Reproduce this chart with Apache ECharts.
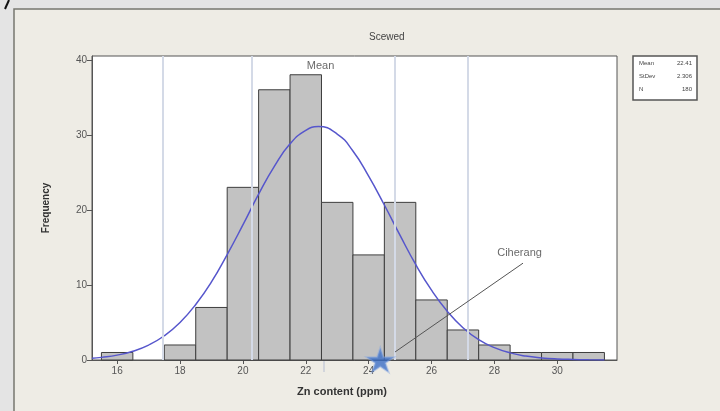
<!DOCTYPE html>
<html>
<head>
<meta charset="utf-8">
<title>Scewed — Zn content histogram</title>
<script src="https://cdn.jsdelivr.net/npm/echarts@6/dist/echarts.min.js"></script>
<style>
  html, body { margin: 0; padding: 0; background: #e4e4e4; }
  #chart { width: 720px; height: 411px; }
</style>
</head>
<body>
<div id="chart"></div>
<script>
// Histogram bins (width 1 ppm, centred on each value) and their counts
const binCenters = [16, 18, 19, 20, 21, 22, 23, 24, 25, 26, 27, 28, 29, 30, 31];
const frequencies = [1, 2, 7, 23, 36, 38, 21, 14, 21, 8, 4, 2, 1, 1, 1];

// Fitted normal curve, sampled along the x axis
const curveX = [15.2, 15.5, 16, 16.5, 17, 17.5, 18, 18.5, 19, 19.5, 20, 20.5, 21, 21.5, 22, 22.4,
                23, 23.5, 24, 24.5, 25, 25.5, 26, 26.5, 27, 27.5, 28, 28.5, 29, 29.5, 30, 30.5, 31, 31.5];
const curveY = [0.23, 0.35, 0.65, 1.17, 1.99, 3.23, 5.0, 7.4, 10.4, 14.05, 18.0, 22.1, 25.8, 28.8, 30.6, 31.1,
                30.1, 27.85, 24.5, 20.65, 16.6, 12.7, 9.3, 6.5, 4.3, 2.7, 1.65, 0.95, 0.52, 0.28, 0.14, 0.07, 0.03, 0.01];

// Axis ticks
const xTicks = [16, 18, 20, 22, 24, 26, 28, 30];
const yTicks = [0, 10, 20, 30, 40];

// Reference lines and the mean position
const refLines = [17.45, 20.28, 24.84, 27.16];
const meanValue = 22.58;

// Ciherang sample marker and its callout
const starPoint = [24.37, 0];
const arrowFrom = [28.91, 12.9];
const arrowTo = [24.84, 1.07];
const calloutLabel = 'Ciherang';
const calloutAt = [28.8, 14.3];
const meanLabelAt = [22.47, 39.2];

// Summary statistics
const statNames = ['Mean', 'StDev', 'N'];
const statValues = ['22.41', '2.306', '180'];

const FONT = '"Liberation Sans", "DejaVu Sans", Arial, sans-serif';
const chart = echarts.init(document.getElementById('chart'), null, { renderer: 'canvas' });

const STAR = 'path://M50,0 L61,35 L98,35 L68,57 L79,91 L50,70 L21,91 L32,57 L2,35 L39,35 Z';

const statsGraphic = [];
statNames.forEach((n, i) => {
  statsGraphic.push({ id: 'sn' + i, type: 'text', left: 639, top: 60 + i * 13,
    style: { text: n, font: '6px ' + FONT, fill: '#444' }, z: 10 });
  statsGraphic.push({ id: 'sv' + i, type: 'text', right: 720 - 692, top: 60 + i * 13,
    style: { text: statValues[i], font: '6px ' + FONT, fill: '#444', textAlign: 'right' }, z: 10 });
});

const option = {
  animation: false,
  backgroundColor: 'transparent',
  graphic: [
    { id: 'panel', type: 'rect', shape: { x: 14, y: 9, width: 720, height: 420 },
      style: { fill: '#eeece5', stroke: '#77776f', lineWidth: 1.5 }, z: -10 },
    { id: 'slash', type: 'line', shape: { x1: 9, y1: 0, x2: 5, y2: 9 },
      style: { stroke: '#111', lineWidth: 2 }, z: -5 },
    { id: 'title', type: 'text', left: 369, top: 32, style: { text: 'Scewed', font: '10px ' + FONT, fill: '#444' } },
    { id: 'statbox', type: 'rect', shape: { x: 633, y: 56, width: 64, height: 44 },
      style: { fill: '#ffffff', stroke: '#555', lineWidth: 1.5 }, z: 5 },
    ...statsGraphic
  ],
  grid: { left: 92, right: 103, top: 56, bottom: 51, show: true, backgroundColor: '#ffffff',
          borderColor: '#555', borderWidth: 1 },
  xAxis: {
    type: 'value', min: 15.2, max: 31.9,
    name: 'Zn content (ppm)', nameLocation: 'middle', nameGap: 26,
    nameTextStyle: { fontFamily: FONT, fontSize: 11, fontWeight: 'bold', color: '#333', padding: [0, 25, 0, 0] },
    axisLine: { show: true, onZero: false, lineStyle: { color: '#555' } },
    axisTick: { show: true, length: 4, customValues: xTicks, lineStyle: { color: '#555' } },
    axisLabel: { customValues: xTicks, margin: 6, fontFamily: FONT, fontSize: 10, color: '#555' },
    splitLine: { show: false }
  },
  yAxis: {
    type: 'value', min: 0, max: 40.5,
    name: 'Frequency', nameLocation: 'middle', nameGap: 41, nameRotate: 90,
    nameTextStyle: { fontFamily: FONT, fontSize: 10, fontWeight: 'bold', color: '#333' },
    axisLine: { show: true, lineStyle: { color: '#555' } },
    axisTick: { show: true, length: 5, customValues: yTicks, lineStyle: { color: '#555' } },
    axisLabel: { customValues: yTicks, margin: 5, fontFamily: FONT, fontSize: 10, color: '#555' },
    splitLine: { show: false }
  },
  series: [
    {
      // faint reference verticals
      type: 'line', data: [], silent: true,
      markLine: {
        symbol: 'none', silent: true, label: { show: false },
        lineStyle: { type: 'solid', color: '#d4dae7', width: 2 },
        data: refLines.map(v => ({ xAxis: v }))
      },
      z: 1
    },
    {
      type: 'custom', name: 'Frequency', z: 2,
      data: binCenters.map((c, i) => [c, frequencies[i]]),
      renderItem: function (params, api) {
        const x = api.value(0), y = api.value(1);
        const p0 = api.coord([x - 0.5, y]);
        const p1 = api.coord([x + 0.5, 0]);
        return {
          type: 'rect',
          shape: { x: p0[0], y: p0[1], width: p1[0] - p0[0], height: p1[1] - p0[1] },
          style: { fill: '#c2c2c2', stroke: '#3e3e3e', lineWidth: 1 }
        };
      }
    },
    {
      type: 'line', name: 'Normal', smooth: true, showSymbol: false, z: 3,
      data: curveX.map((x, i) => [x, curveY[i]]),
      lineStyle: { color: '#5656cc', width: 1.5 }
    },
    {
      // callout arrow
      type: 'line', data: [], z: 4, silent: true,
      markLine: {
        silent: true, symbol: ['none', 'triangle'], symbolSize: [0, 6],
        label: { show: false },
        lineStyle: { type: 'solid', color: '#555', width: 1 },
        data: [[{ coord: arrowFrom }, { coord: arrowTo }]]
      }
    },
    {
      type: 'scatter', z: 6, silent: true,
      data: [calloutAt], symbolSize: 0,
      label: { show: true, position: 'inside', formatter: calloutLabel,
               fontFamily: FONT, fontSize: 11, color: '#444' }
    },
    {
      type: 'scatter', z: 6, silent: true,
      data: [meanLabelAt], symbolSize: 0,
      label: { show: true, position: 'inside', formatter: 'Mean',
               fontFamily: FONT, fontSize: 11, color: '#444' }
    },
    {
      type: 'scatter', z: 7, name: 'Ciherang',
      data: [starPoint], symbol: STAR, symbolSize: [27, 24],
      itemStyle: { color: '#3b6ec6', borderColor: 'rgba(130,165,225,0.55)', borderWidth: 2 }
    }
  ]
};

chart.setOption(option);

// short tick below the axis marking the mean
const meanPx = chart.convertToPixel({ gridIndex: 0 }, [meanValue, 0]);
chart.setOption({
  graphic: [
    { id: 'meanTick', type: 'line', shape: { x1: meanPx[0], y1: meanPx[1] + 1, x2: meanPx[0], y2: meanPx[1] + 12 },
      style: { stroke: '#c8cdd8', lineWidth: 1.5 }, z: 5 }
  ]
});
</script>
</body>
</html>
